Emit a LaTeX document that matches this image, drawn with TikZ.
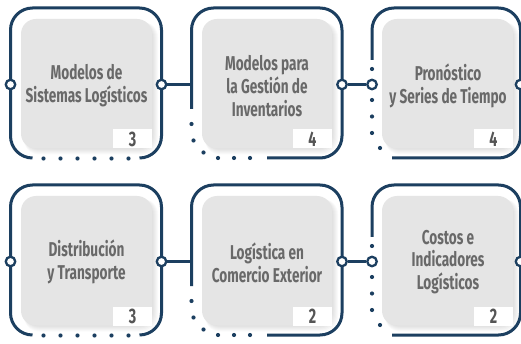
\documentclass[tikz,border=0pt]{standalone}
\usepackage{fontspec}
\newfontfamily\cardfont[FakeStretch=0.68]{Fira Sans}
\definecolor{navy}{HTML}{1C3F60}
\definecolor{boxgray}{HTML}{E5E5E5}
\definecolor{txtgray}{HTML}{696969}
\definecolor{numgray}{HTML}{555555}
\tikzset{
  frame/.style={draw=navy, line width=3pt, rounded corners=22pt},
  conn/.style={draw=navy, line width=2.5pt},
  port/.style={circle, draw=navy, line width=2.3pt, fill=white, minimum size=9.5pt, inner sep=0pt},
  dotmark/.style={circle, fill=navy, minimum size=4.2pt, inner sep=0pt},
  graybox/.style={fill=boxgray, rounded corners=15pt, minimum width=131pt, minimum height=129.5pt, inner sep=0pt},
  numbox/.style={fill=white, minimum width=39pt, minimum height=19pt, inner sep=0pt, anchor=south east, text=numgray, font=\cardfont\bfseries\fontsize{21}{21}\selectfont},
  cardtext/.style={text=txtgray, align=center, font=\cardfont\bfseries\fontsize{20}{22.8}\selectfont},
}
\newcommand{\boxshadow}[4]{%
  \foreach \k in {1,...,6}{\fill[black, opacity=0.02, rounded corners=15pt] (#1+3,#2+3) rectangle (#3+\k,#4+\k);}}
\newcommand{\cardrow}[9]{%
  \boxshadow{21}{19}{152}{148.5}
  \boxshadow{202}{19}{332}{148.5}
  \boxshadow{382}{19}{513}{148.5}
  \node[graybox] (g#1a) at (86.5,83.75) {};
  \node[graybox, minimum width=130pt] (g#1b) at (267,83.75) {};
  \node[graybox] (g#1c) at (447.5,83.75) {};
  \node[numbox] (n#1a) at (g#1a.south east) {#5};
  \node[numbox] (n#1b) at (g#1b.south east) {#6};
  \node[numbox] (n#1c) at (g#1c.south east) {#7};
  \node[cardtext] (t#1a) at (86.5,#8) {#2};
  \node[cardtext] (t#1b) at (267,#9) {#3};
  \node[cardtext] (t#1c) at (448,#8) {#4};
  \draw[frame] (32.5,158) -- (10.5,158) -- (10.5,8) -- (161.5,8) -- (161.5,158) -- (139.5,158);
  \draw[frame] (191.5,109) -- (191.5,8) -- (342,8) -- (342,158) -- (267,158);
  \draw[frame] (372,60) -- (372,8) -- (520.5,8) -- (520.5,158) -- (392,158);
  \node[port] (p#1al) at (10.5,84.5) {};
  \node[port] (p#1ar) at (161.5,84.5) {};
  \coordinate (j#1b) at (191.5,84.5);
  \node[port] (p#1br) at (342,84.5) {};
  \node[port] (p#1cl) at (372,84.5) {};
  \node[port] (p#1cr) at (520.5,84.5) {};
  \draw[conn] (p#1ar) -- (j#1b);
  \draw[conn] (p#1br) -- (p#1cl);
  \foreach \i in {0,...,5}{\node[dotmark] (d#1a\i) at (43.5+17*\i,158.5) {};}
  \node[dotmark] (d#1b1) at (191.5,124) {};
  \node[dotmark] (d#1b2) at (193.5,140.5) {};
  \node[dotmark] (d#1b3) at (203.5,152.5) {};
  \node[dotmark] (d#1b4) at (218,158) {};
  \node[dotmark] (d#1b5) at (234,158) {};
  \node[dotmark] (d#1b6) at (250,158) {};
  \node[dotmark] (d#1c1) at (372,69) {};
  \node[dotmark] (d#1c2) at (372,100) {};
  \node[dotmark] (d#1c3) at (372,116.5) {};
  \node[dotmark] (d#1c4) at (372,133) {};
  \node[dotmark] (d#1c5) at (380,148) {};
}
\begin{document}
\begin{tikzpicture}[x=1pt,y=-1pt]
  \useasboundingbox[fill=white] (0,0) rectangle (521,344);
  \cardrow{u}{Modelos de\\Sistemas Logísticos}{Modelos para\\la Gestión de\\Inventarios}{Pronóstico\\y Series de Tiempo}{3}{4}{4}{85.5}{86}
  \begin{scope}[yshift=-177pt]
    \cardrow{v}{Distribución\\y Transporte}{Logística en\\Comercio Exterior}{Costos e\\Indicadores\\Logísticos}{3}{2}{2}{85}{86}
  \end{scope}
\end{tikzpicture}
\end{document}
